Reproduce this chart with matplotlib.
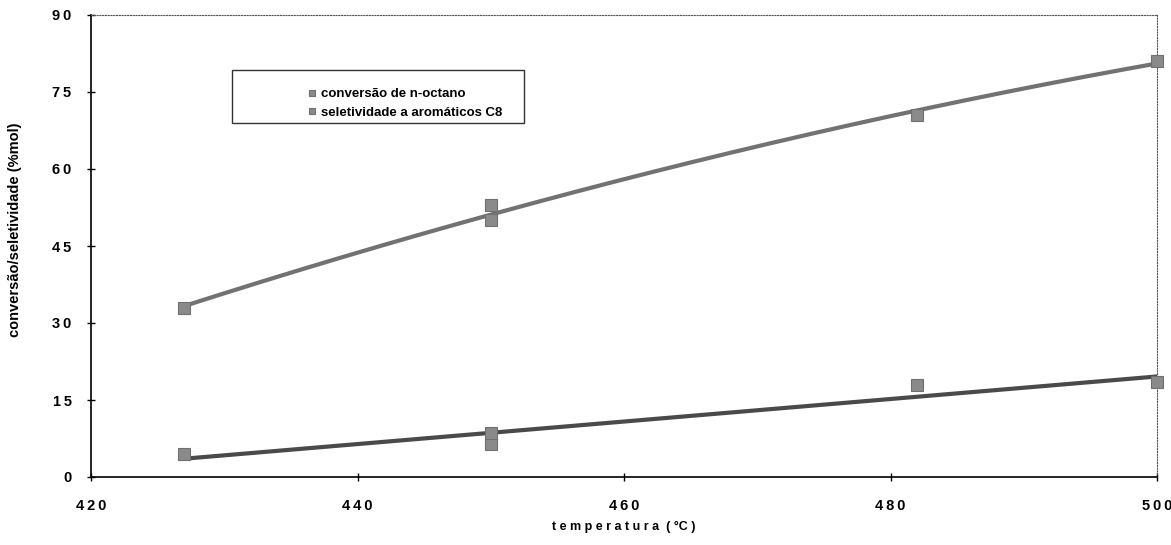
import numpy as np
import matplotlib
matplotlib.use("Agg")
import matplotlib.pyplot as plt
from matplotlib.patches import Rectangle

# Data
temp = [427, 450, 450, 482, 500]
conversao = [33.0, 50.0, 53.0, 70.5, 81.0]
seletividade = [4.5, 6.5, 8.5, 18.0, 18.5]
xticks = [420, 440, 460, 480, 500]
yticks = [0, 15, 30, 45, 60, 75, 90]
labels = ["conversão de n-octano", "seletividade a aromáticos C8"]

plt.rcParams['font.family'] = ['Liberation Sans', 'DejaVu Sans']

fig = plt.figure(figsize=(11.71, 5.45), dpi=100)
ax = fig.add_axes([91/1171, 68/545, (1157-91)/1171, (477-15)/545])

grey_line = "#727272"
grey_mark = "#8a8a8a"

# trend lines
x_fit = np.linspace(min(temp), max(temp), 200)
p1 = np.polyfit(temp, conversao, 2)
p2 = np.polyfit(temp, seletividade, 1)
ax.plot(x_fit, np.polyval(p1, x_fit), color=grey_line, lw=3, zorder=2)
ax.plot(x_fit, np.polyval(p2, x_fit), color="#4a4a4a", lw=3, zorder=2)

ax.plot(temp, conversao, 's', color=grey_mark, ms=9, mec="#707070", mew=0.8,
        label=labels[0], zorder=3, clip_on=False)
ax.plot(temp, seletividade, 's', color=grey_mark, ms=9, mec="#707070", mew=0.8,
        label=labels[1], zorder=3, clip_on=False)

def spaced(v):
    return "\u2009".join(str(v))

ax.set_xlim(420, 500)
ax.set_ylim(0, 90)
ax.set_xticks(xticks)
ax.set_xticklabels([spaced(v) for v in xticks])
ax.set_yticks(yticks)
ax.set_yticklabels([spaced(v) for v in yticks])
ax.tick_params(axis='both', direction='inout', length=6, width=1, labelsize=10.5)
ax.tick_params(axis='y', pad=11)
ax.tick_params(axis='x', pad=13)
for t in ax.get_xticklabels() + ax.get_yticklabels():
    t.set_fontweight('bold')

for s in ['top', 'right']:
    ax.spines[s].set_linestyle((0, (1, 1.5)))
    ax.spines[s].set_linewidth(0.8)
    ax.spines[s].set_color('#555555')
ax.spines['left'].set_linewidth(1.2)
ax.spines['bottom'].set_linewidth(1.2)

ax.set_xlabel("t e m p e r a t u r a  ( °C )", fontsize=9, fontweight='bold')
ax.xaxis.set_label_coords(0.5, -(521 - 477) / 462, transform=ax.transAxes)
ax.set_ylabel("conversão/seletividade (%mol)", fontsize=10.5, fontweight='bold')
ax.yaxis.set_label_coords((22 - 91) / 1066, (477 - 230) / 462, transform=ax.transAxes)

# legend frame
fig.patches.append(Rectangle((232/1171, 1 - 123/545), (524-232)/1171, (123-70)/545,
                             transform=fig.transFigure, fill=False,
                             edgecolor='#333333', lw=1.0, zorder=5))
leg = ax.legend(loc='upper left', bbox_to_anchor=(297/1171, 1 - 79/545),
                bbox_transform=fig.transFigure, frameon=False,
                markerscale=0.55, handlelength=0.8,
                handletextpad=0.3, borderpad=0.2, labelspacing=0.45,
                prop={'weight': 'bold', 'size': 9.5})

fig.savefig("out.png", dpi=100)
